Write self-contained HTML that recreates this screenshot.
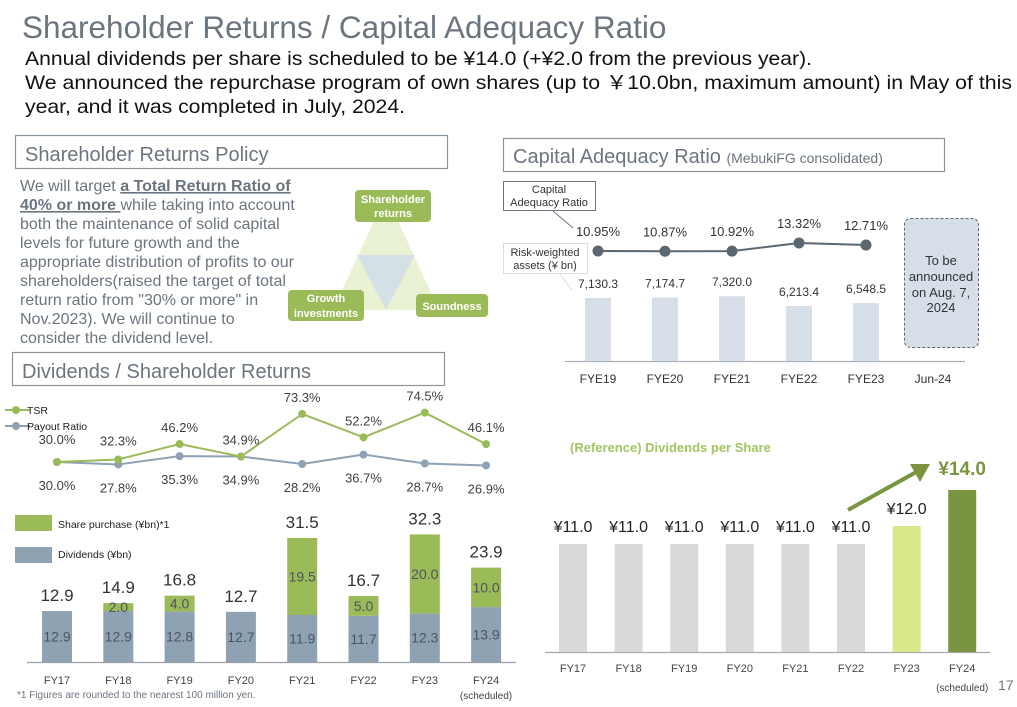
<!DOCTYPE html>
<html><head><meta charset="utf-8">
<style>
body{margin:0;background:#fff;}
svg{display:block;font-family:"Liberation Sans",Arial,sans-serif;}
</style></head>
<body>
<svg id="s" width="1017" height="707" viewBox="0 0 1017 707" xmlns="http://www.w3.org/2000/svg">
<g>
<text x="22" y="38" font-size="31.5" fill="#6b7580">Shareholder Returns / Capital Adequacy Ratio</text>
<text x="25" y="65" font-size="19.5" fill="#111" textLength="787" lengthAdjust="spacingAndGlyphs">Annual dividends per share is scheduled to be ¥14.0 (+¥2.0 from the previous year).</text>
<text x="25" y="89" font-size="19.5" fill="#111" textLength="987" lengthAdjust="spacingAndGlyphs">We announced the repurchase program of own shares (up to ￥10.0bn, maximum amount) in May of this</text>
<text x="25" y="113" font-size="19.5" fill="#111" textLength="380" lengthAdjust="spacingAndGlyphs">year, and it was completed in July, 2024.</text>
</g>

<g>
<rect x="15.5" y="135.5" width="432" height="33" fill="none" stroke="#8a949c" stroke-width="1.2"/>
<text x="25" y="161" font-size="20" fill="#6b7580">Shareholder Returns Policy</text>
<g font-size="16" fill="#6b7580">
<text x="20" y="191"><tspan>We will target </tspan><tspan font-weight="bold" text-decoration="underline">a Total Return Ratio of</tspan></text>
<text x="20" y="210"><tspan font-weight="bold" text-decoration="underline">40% or more </tspan><tspan>while taking into account</tspan></text>
<text x="20" y="229">both the maintenance of solid capital</text>
<text x="20" y="248">levels for future growth and the</text>
<text x="20" y="267">appropriate distribution of profits to our</text>
<text x="20" y="286">shareholders(raised the target of total</text>
<text x="20" y="305">return ratio from "30% or more" in</text>
<text x="20" y="324">Nov.2023). We will continue to</text>
<text x="20" y="343">consider the dividend level.</text>
</g>
<g>
<polygon points="386,195 333,310 439,310" fill="#eaf2d4"/>
<polygon points="357,255 415,255 386,310" fill="#d5dfe6"/>
<rect x="355" y="190" width="76" height="32" rx="4" fill="#9bbb59"/>
<text x="393" y="203" font-size="11" font-weight="bold" fill="#fff" text-anchor="middle">Shareholder</text>
<text x="393" y="217" font-size="11" font-weight="bold" fill="#fff" text-anchor="middle">returns</text>
<rect x="288" y="290" width="76" height="31" rx="4" fill="#9bbb59"/>
<text x="326" y="302" font-size="11" font-weight="bold" fill="#fff" text-anchor="middle">Growth</text>
<text x="326" y="317" font-size="11" font-weight="bold" fill="#fff" text-anchor="middle">investments</text>
<rect x="416" y="294" width="72" height="23" rx="4" fill="#9bbb59"/>
<text x="452" y="310" font-size="11" font-weight="bold" fill="#fff" text-anchor="middle">Soundness</text>
</g>
<rect x="12.5" y="352.5" width="432" height="33" fill="#fff" stroke="#8a949c" stroke-width="1.2"/>
<text x="22" y="378" font-size="20" fill="#6b7580">Dividends / Shareholder Returns</text>
</g>

<g id="left"></g>

<g>
<rect x="503.5" y="138.5" width="441" height="33" fill="none" stroke="#8a949c" stroke-width="1.2"/>
<text x="513" y="163" font-size="20" fill="#6b7580">Capital Adequacy Ratio <tspan font-size="14">(MebukiFG consolidated)</tspan></text>
<rect x="503.5" y="181.5" width="92" height="29" fill="#fff" stroke="#6b7580"/>
<text x="549" y="193" font-size="11" fill="#333" text-anchor="middle">Capital</text>
<text x="549" y="206" font-size="11" fill="#333" text-anchor="middle">Adequacy Ratio</text>
<line x1="553" y1="211" x2="573" y2="228" stroke="#6b7580"/>
<rect x="503.5" y="243.5" width="84" height="30" fill="#fff" stroke="#d5dde5"/>
<text x="545" y="256" font-size="11" fill="#333" text-anchor="middle">Risk-weighted</text>
<text x="545" y="269" font-size="11" fill="#333" text-anchor="middle">assets (¥ bn)</text>
<line x1="560" y1="274" x2="572" y2="290" stroke="#d5dde5"/>
<rect x="904.5" y="218.5" width="74" height="129" rx="6" fill="#d6dfe8" stroke="#5a6670" stroke-dasharray="3,2"/>
<g font-size="13" fill="#333" text-anchor="middle">
<text x="941" y="265">To be</text><text x="941" y="281">announced</text><text x="941" y="297">on Aug. 7,</text><text x="941" y="312">2024</text>
</g>
</g>
<g id="car"></g>

<g id="dps">
<text x="570" y="452" font-size="13" font-weight="bold" fill="#a5c463">(Reference) Dividends per Share</text>
</g>
<text x="998" y="690" font-size="14" fill="#6b7580">17</text>
</svg>
<script>
// ---- Dividends / shareholder returns ----
const divCats = ["FY17","FY18","FY19","FY20","FY21","FY22","FY23","FY24"];
const divDividends = [12.9,12.9,12.8,12.7,11.9,11.7,12.3,13.9];
const divPurchase = [0,2.0,4.0,0,19.5,5.0,20.0,10.0];
const divTotals = ["12.9","14.9","16.8","12.7","31.5","16.7","32.3","23.9"];
const tsrValues = [30.0,32.3,46.2,34.9,73.3,52.2,74.5,46.1];
const payoutValues = [30.0,27.8,35.3,34.9,28.2,36.7,28.7,26.9];
// ---- Capital adequacy ----
const carCats = ["FYE19","FYE20","FYE21","FYE22","FYE23","Jun-24"];
const carRatio = [10.95,10.87,10.92,13.32,12.71];
const carRwa = [7130.3,7174.7,7320.0,6213.4,6548.5];
// ---- DPS ----
const dpsCats = ["FY17","FY18","FY19","FY20","FY21","FY22","FY23","FY24"];
const dpsValues = [11.0,11.0,11.0,11.0,11.0,11.0,12.0,14.0];

const NS="http://www.w3.org/2000/svg";
function mk(parent,tag,attrs,txt){const e=document.createElementNS(NS,tag);for(const k in attrs)e.setAttribute(k,attrs[k]);if(txt!==undefined)e.textContent=txt;parent.appendChild(e);return e;}

// Left chart
(function(){
const g=document.getElementById('left');
const xL=i=>57+i*61.3, base=662, yB=v=>base-v*3.95, yP=v=>462-(v-30)*1.11;
const ax=mk(g,'line',{x1:27,y1:base+0.5,x2:516,y2:base+0.5,stroke:'#9aa0a6','stroke-width':1.2});


divCats.forEach((c,i)=>{
 const x=xL(i);
 const d=divDividends[i], p=divPurchase[i];
 const b1=mk(g,'rect',{x:x-15,y:yB(d),width:30,height:base-yB(d),fill:'#8fa2b4'});
 
 
 mk(g,'text',{x:x,y:(yB(d)+base)/2+5,'font-size':14,fill:'#4a5560','text-anchor':'middle'},d.toFixed(1));
 let top=yB(d);
 if(p>0){
  const b2=mk(g,'rect',{x:x-15,y:yB(d+p),width:30,height:yB(d)-yB(d+p),fill:'#9bbb59'});
  
  
  mk(g,'text',{x:x,y:(yB(d+p)+yB(d))/2+5,'font-size':14,fill:'#4a5560','text-anchor':'middle'},p.toFixed(1));
  top=yB(d+p);
 }
 const tl=mk(g,'text',{x:x,y:top-10,'font-size':17,fill:'#333','text-anchor':'middle'},divTotals[i]);
 
 
 const xl=mk(g,'text',{x:x,y:684,'font-size':11,fill:'#444','text-anchor':'middle'},c);
 
 
});
mk(g,'text',{x:486,y:699,'font-size':10,fill:'#444','text-anchor':'middle'},'(scheduled)');
mk(g,'text',{x:17,y:698,'font-size':10,fill:'#6b7580'},'*1  Figures are rounded to the nearest 100 million yen.');
const pl=(vals,f)=>vals.map((v,i)=>xL(i)+','+f(v)).join(' ');
const payLine=mk(g,'polyline',{points:pl(payoutValues,yP),fill:'none',stroke:'#8fa2b4','stroke-width':2});


const tsrLine=mk(g,'polyline',{points:pl(tsrValues,yP),fill:'none',stroke:'#9bbb59','stroke-width':2});


payoutValues.forEach((v,i)=>{
 const c=mk(g,'circle',{cx:xL(i),cy:yP(v),r:4,fill:'#8fa2b4'});
 
 
 mk(g,'text',{x:xL(i),y:yP(v)+28,'font-size':13,fill:'#404040','text-anchor':'middle'},v.toFixed(1)+'%');
});
tsrValues.forEach((v,i)=>{
 const c=mk(g,'circle',{cx:xL(i),cy:yP(v),r:4,fill:'#9bbb59'});
 
 
 const off=(i<2)?14:12;
 mk(g,'text',{x:xL(i),y:yP(v)-off-(i==0?4:0),'font-size':13,fill:'#404040','text-anchor':'middle'},v.toFixed(1)+'%');
});
const lg=mk(g,'g',{});


mk(lg,'line',{x1:5,y1:410,x2:30,y2:410,stroke:'#9bbb59','stroke-width':2});
mk(lg,'circle',{cx:16,cy:410,r:4,fill:'#9bbb59'});
mk(lg,'text',{x:27,y:414,'font-size':10.5,fill:'#222'},'TSR');
mk(lg,'line',{x1:5,y1:426,x2:30,y2:426,stroke:'#8fa2b4','stroke-width':2});
mk(lg,'circle',{cx:16,cy:426,r:4,fill:'#8fa2b4'});
mk(lg,'text',{x:27,y:430,'font-size':10.5,fill:'#222'},'Payout Ratio');
mk(lg,'rect',{x:15,y:515,width:37,height:16,fill:'#9bbb59'});
mk(lg,'text',{x:58,y:528,'font-size':10.5,fill:'#222'},'Share purchase (¥bn)*1');
mk(lg,'rect',{x:15,y:547,width:37,height:16,fill:'#8fa2b4'});
mk(lg,'text',{x:58,y:558,'font-size':10.5,fill:'#222'},'Dividends (¥bn)');
})();

// CAR chart
(function(){
const g=document.getElementById('car');
const xC=i=>598+i*67, base=361, yR=v=>base-v*0.00885, yL=v=>251-(v-10.95)*3.38;
const ax=mk(g,'line',{x1:565,y1:base+0.5,x2:965,y2:base+0.5,stroke:'#aab0b6','stroke-width':1.2});


carRwa.forEach((v,i)=>{
 const b=mk(g,'rect',{x:xC(i)-13,y:yR(v),width:26,height:base-yR(v),fill:'#d6dfe8'});
 
 
 mk(g,'text',{x:xC(i),y:yR(v)-10,'font-size':12,fill:'#333','text-anchor':'middle'},v.toLocaleString('en-US',{minimumFractionDigits:1,maximumFractionDigits:1}));
});
const line=mk(g,'polyline',{points:carRatio.map((v,i)=>xC(i)+','+yL(v)).join(' '),fill:'none',stroke:'#5a6670','stroke-width':2});


carRatio.forEach((v,i)=>{
 const c=mk(g,'circle',{cx:xC(i),cy:yL(v),r:5.5,fill:'#5a6670'});
 
 
 mk(g,'text',{x:xC(i),y:yL(v)-15,'font-size':13,fill:'#333','text-anchor':'middle'},v.toFixed(2)+'%');
});
carCats.forEach((c,i)=>{
 const t=mk(g,'text',{x:xC(i),y:383,'font-size':12,fill:'#333','text-anchor':'middle'},c);
 
 
});
})();

// DPS chart
(function(){
const g=document.getElementById('dps');
const xD=i=>573+i*55.6, base=652, yD=v=>base-(v-5)*18;
const ax=mk(g,'line',{x1:545,y1:base+0.5,x2:990,y2:base+0.5,stroke:'#aaa','stroke-width':1.2});


const n=dpsValues.length;
dpsValues.forEach((v,i)=>{
 const col=i==n-1?'#7a9440':(i==n-2?'#d7e98a':'#d9d9d9');
 const b=mk(g,'rect',{x:xD(i)-14,y:yD(v),width:28,height:base-yD(v),fill:col});
 
 
 const last=i==n-1;
 mk(g,'text',{x:xD(i),y:yD(v)-(last?15:12),'font-size':last?19:16,'font-weight':last?'bold':'normal',fill:last?'#7a9440':'#222','text-anchor':'middle'},'¥'+v.toFixed(1));
 const t=mk(g,'text',{x:xD(i),y:672,'font-size':11,fill:'#444','text-anchor':'middle'},dpsCats[i]);
 
 
});
mk(g,'text',{x:xD(n-1),y:691,'font-size':10,fill:'#444','text-anchor':'middle'},'(scheduled)');
const ar=mk(g,'g',{});


mk(ar,'line',{x1:848,y1:510,x2:918,y2:471,stroke:'#7a9440','stroke-width':4});
mk(ar,'polygon',{points:'930,464 910,464 920,482',fill:'#7a9440'});
})();
</script>
</body></html>
